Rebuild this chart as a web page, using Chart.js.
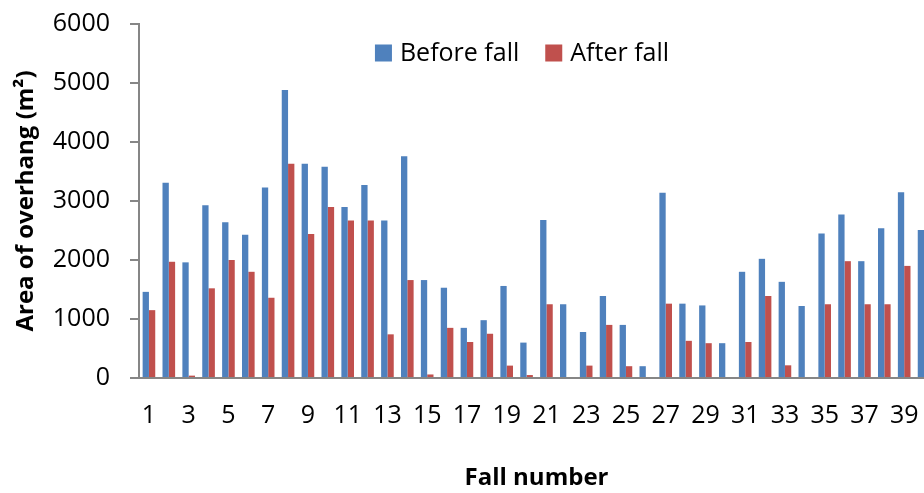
<!DOCTYPE html>
<html>
<head>
<meta charset="utf-8">
<script src="https://cdn.jsdelivr.net/npm/chart.js@4.4.1/dist/chart.umd.min.js"></script>
<style>
  html, body { margin: 0; padding: 0; overflow: hidden; background: #fff; }
</style>
</head>
<body>
<canvas id="graph" width="944" height="493"></canvas>
<script>
const fallNumbers = ["1","2","3","4","5","6","7","8","9","10",
    "11","12","13","14","15","16","17","18","19","20",
    "21","22","23","24","25","26","27","28","29","30",
    "31","32","33","34","35","36","37","38","39","40"];

const beforeFall = [1460,3310,1960,2930,2640,2430,3230,4880,3630,3580,
    2900,3270,2670,3760,1660,1530,850,980,1560,600,
    2680,1250,780,1390,900,200,3140,1260,1230,590,
    1800,2020,1630,1220,2450,2770,1980,2540,3150,2510];

// fall 40 after value is cut off in the picture
const afterFall = [1150,1970,40,1520,2000,1800,1360,3630,2440,2900,
    2670,2670,740,1660,60,850,610,750,210,50,
    1250,0,210,900,200,0,1260,630,590,0,
    610,1390,215,0,1250,1980,1250,1250,1900,null];

const seriesNames = ["Before fall", "After fall"];
const seriesColors = ["#4F81BD", "#C0504D"];

Chart.defaults.font.family = "'Open Sans', sans-serif";
Chart.defaults.color = "#000";

// legend sits inside the plot, near the top
const insideLegend = {
    id: "insideLegend",
    afterDraw(chart) {
        const ctx = chart.ctx;
        const sets = chart.data.datasets;
        const box = 17, gap = 8, space = 26;
        ctx.save();
        ctx.font = "25px 'Open Sans'";
        ctx.textBaseline = "middle";
        const widths = sets.map(d => ctx.measureText(d.label).width);
        let total = space * (sets.length - 1);
        widths.forEach(w => total += box + gap + w);
        let x = 522 - total / 2;
        const y = 53;
        sets.forEach((d, i) => {
            ctx.fillStyle = d.backgroundColor;
            ctx.fillRect(x, y - box / 2, box, box);
            ctx.fillStyle = "#000";
            ctx.fillText(d.label, x + box + gap, y + 1);
            x += box + gap + widths[i] + space;
        });
        ctx.restore();
    }
};

const chart = new Chart(document.getElementById("graph"), {
    type: "bar",
    data: {
        labels: fallNumbers,
        datasets: [
            {label: seriesNames[0], data: beforeFall, backgroundColor: seriesColors[0]},
            {label: seriesNames[1], data: afterFall, backgroundColor: seriesColors[1]},
        ],
    },
    options: {
        responsive: false,
        animation: false,
        categoryPercentage: 0.635,
        barPercentage: 1,
        layout: {padding: {left: 8, top: 24, right: 10, bottom: 0}},
        plugins: {legend: {display: false}, tooltip: {enabled: false}},
        scales: {
            x: {
                grid: {display: false},
                border: {display: true, color: "#868686", width: 2},
                ticks: {
                    autoSkip: false, maxRotation: 0, padding: 15, font: {size: 25},
                    callback: function (v, i) { return i % 2 === 0 ? this.getLabelForValue(v) : ""; },
                },
                title: {display: true, text: "Fall number", font: {size: 24, weight: "bold"}, padding: {top: 4, bottom: 0}},
                afterFit: s => { s.height = 115; },
            },
            y: {
                min: 0, max: 6000,
                ticks: {stepSize: 1000, padding: 20, font: {size: 25}, callback: v => String(v)},
                grid: {drawOnChartArea: false, drawTicks: true, tickLength: 9, color: "#868686", lineWidth: 2},
                border: {color: "#868686", width: 2},
                title: {display: true, text: "Area of overhang (m²)", font: {size: 24, weight: "bold"}, padding: {top: 4, bottom: 4}},
                afterFit: s => { s.width = 131; s.paddingTop = 0; },
            },
        },
    },
    plugins: [insideLegend],
});
</script>
</body>
</html>
